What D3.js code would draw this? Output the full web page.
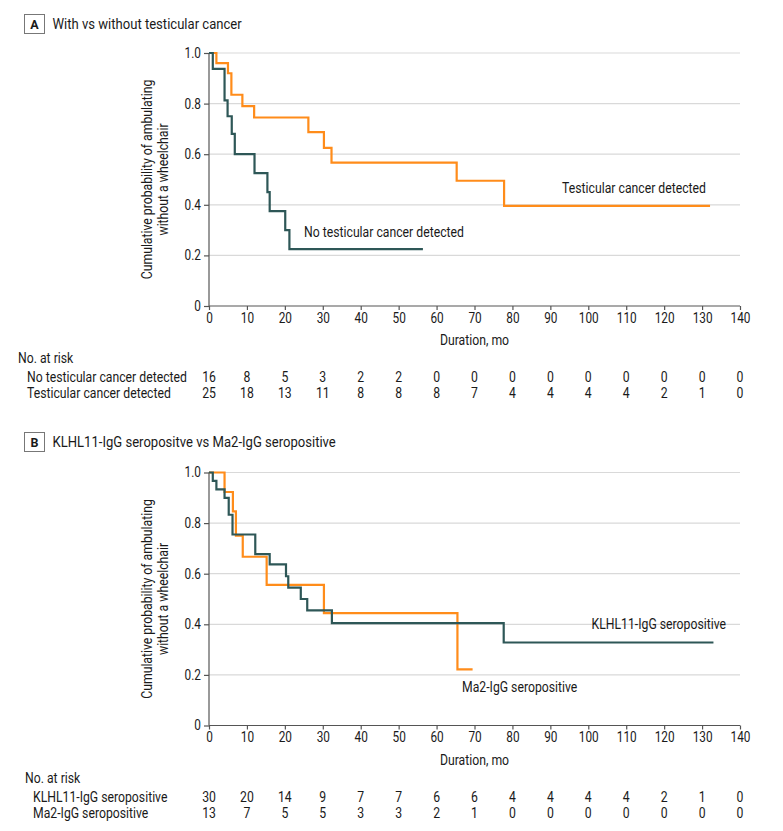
<!DOCTYPE html>
<html>
<head>
<meta charset="utf-8">
<script src="https://cdn.jsdelivr.net/npm/d3@7"></script>
<style>
html,body{margin:0;padding:0;background:#fff;}
svg{display:block;}
text{font-family:Roboto,"Liberation Sans",Arial,sans-serif;fill:#1a1a1a;}
</style>
</head>
<body>
<svg id="chart" width="783" height="831"></svg>
<script>
// ---------- DATA ----------
const xTicks = [0,10,20,30,40,50,60,70,80,90,100,110,120,130,140];
const yTicks = [0,0.2,0.4,0.6,0.8,1.0];

// Panel A
const titleA = "With vs without testicular cancer";
const namesA = ["No testicular cancer detected","Testicular cancer detected"];
const aNoTime = [0,1.0,4.1,4.9,6.0,6.8,12.0,15.4,16.0,20.1,21.2,56.4];
const aNoSurv = [1,0.9375,0.8125,0.75,0.68,0.60,0.525,0.45,0.375,0.30,0.225,0.225];
const aYesTime = [0,1.95,5.0,5.9,8.8,11.9,26.2,30.3,32.3,65.3,77.8,132.1];
const aYesSurv = [1,0.96,0.92,0.835,0.79,0.745,0.687,0.625,0.567,0.495,0.396,0.396];
const riskANo  = [16,8,5,3,2,2,0,0,0,0,0,0,0,0,0];
const riskAYes = [25,18,13,11,8,8,8,7,4,4,4,4,2,1,0];

// Panel B
const titleB = "KLHL11-IgG seropositve vs Ma2-IgG seropositive";
const namesB = ["KLHL11-IgG seropositive","Ma2-IgG seropositive"];
const bKlTime = [0,1.0,1.95,4.1,5.2,6.2,12.2,16.0,20.3,20.9,24.2,25.9,32.4,77.7,133.0];
const bKlSurv = [1,0.967,0.933,0.9,0.833,0.755,0.677,0.637,0.59,0.545,0.5,0.455,0.405,0.328,0.328];
const bMaTime = [0,4.1,6.3,7.1,8.9,15.2,30.3,65.5,69.5];
const bMaSurv = [1,0.923,0.846,0.75,0.667,0.556,0.444,0.222,0.222];
const riskBKl = [30,20,14,9,7,7,6,6,4,4,4,4,2,1,0];
const riskBMa = [13,7,5,5,3,3,2,1,0,0,0,0,0,0,0];

const yLabel = ["Cumulative probability of ambulating","without a wheelchair"];
const xLabel = "Duration, mo";

// ---------- STYLE ----------
const GREEN = "#2e5757";
const ORANGE = "#ff8c1a";
const FS = 14.5;

const svg = d3.select("#chart");

// measure condensing factor once (narrow typeface of the reference)
const probe = svg.append("text").attr("font-size",FS).text(namesA[0]);
const K = 160 / probe.node().getComputedTextLength();
probe.remove();

// add a text that is horizontally condensed by K, anchored at (x,y)
function ctext(parent, x, y, str, opts={}){
  const rot = opts.rotate ? ` rotate(${opts.rotate})` : "";
  return parent.append("text")
    .attr("transform",`translate(${x},${y})${rot} scale(${K},1)`)
    .attr("text-anchor",opts.anchor||"start")
    .attr("font-size",opts.size||FS)
    .text(str);
}

function panel(cfg){
  const g = svg.append("g");
  const x = d3.scaleLinear().domain([0,140]).range([209,740]);
  const y = d3.scaleLinear().domain([0,1]).range([cfg.yBottom,cfg.yTop]);

  // title box
  g.append("rect").attr("x",24.5).attr("y",cfg.titleY-9.5).attr("width",20).attr("height",19)
    .attr("fill","#fff").attr("stroke","#777").attr("stroke-width",1);
  g.append("text").attr("x",34.5).attr("y",cfg.titleY+4.5).attr("text-anchor","middle")
    .attr("font-weight","bold").attr("font-size",12.5).attr("font-family","Liberation Sans, Arial, sans-serif").text(cfg.letter);
  ctext(g, 52.5, cfg.titleY+5, cfg.title, {size:15.5});

  // gridlines
  g.append("g").selectAll("line").data(yTicks.filter(d=>d>0)).join("line")
    .attr("x1",x(0)).attr("x2",x(140)).attr("y1",d=>y(d)).attr("y2",d=>y(d))
    .attr("stroke","#d9d9d9").attr("stroke-width",1.2);

  // axes
  const xAxis = d3.axisBottom(x).tickValues(xTicks).tickSize(4).tickPadding(3).tickFormat(d3.format("d"));
  const gx = g.append("g").attr("transform",`translate(0,${cfg.yBottom})`).call(xAxis);
  const yAxis = d3.axisLeft(y).tickValues(yTicks).tickSize(5).tickPadding(3)
    .tickFormat(d=> d===0 ? "0" : d3.format(".1f")(d));
  const gy = g.append("g").attr("transform",`translate(${x(0)},0)`).call(yAxis);
  [gx,gy].forEach(a=>{
    a.select(".domain").attr("stroke","#555").attr("stroke-width",1.2);
    a.selectAll(".tick line").attr("stroke","#555").attr("stroke-width",1.2);
    a.selectAll(".tick text").attr("font-size",14).attr("fill","#1a1a1a")
      .attr("font-family","Roboto, sans-serif");
  });
  // condense tick labels around their anchors
  gx.selectAll(".tick text").attr("transform",`scale(${K},1)`);
  gy.selectAll(".tick text").each(function(){
    const t = d3.select(this);
    const xx = +t.attr("x");
    t.attr("x",0).attr("transform",`translate(${xx},0) scale(${K},1)`);
  });
  gx.select(".domain").attr("d",`M${x(0)},0H${x(140)}`);
  gy.select(".domain").attr("d",`M0,${cfg.yBottom}V${cfg.yTop}`);

  // y label
  const cy = (cfg.yTop+cfg.yBottom)/2;
  yLabel.forEach((t,i)=>{
    ctext(g, 152+i*16, cy, t, {rotate:-90, anchor:"middle"});
  });
  // x label
  ctext(g, (x(0)+x(140))/2, cfg.yBottom+39, xLabel, {anchor:"middle"});

  // curves
  const line = d3.line().x(d=>x(d[0])).y(d=>y(d[1])).curve(d3.curveStepAfter);
  cfg.series.forEach(s=>{
    g.append("path").datum(d3.zip(s.time,s.surv)).attr("d",line)
      .attr("fill","none").attr("stroke",s.color).attr("stroke-width",2.2)
      .attr("stroke-linejoin","miter").attr("stroke-linecap","butt");
  });
  cfg.labels.forEach(l=>{
    ctext(g, l.x, l.y, l.text, {anchor:l.anchor||"start"});
  });

  // risk table
  const rt = cfg.yBottom+57;
  ctext(g, cfg.riskX, rt, "No. at risk");
  cfg.risk.forEach((r,i)=>{
    const yy = rt + 19 + i*16;
    ctext(g, cfg.riskX+cfg.rowIndent, yy, r.name);
    const rg = g.append("g");
    r.vals.forEach((v,j)=>{
      ctext(rg, x(xTicks[j]), yy, v, {anchor:"middle"});
    });
  });
}

panel({
  letter:"A", title:titleA, titleY:24, yTop:53, yBottom:306,
  series:[
    {time:aYesTime,surv:aYesSurv,color:ORANGE},
    {time:aNoTime,surv:aNoSurv,color:GREEN}
  ],
  labels:[
    {text:namesA[1],x:706,y:193,anchor:"end"},
    {text:namesA[0],x:304,y:237}
  ],
  riskX:18, rowIndent:9,
  risk:[{name:namesA[0],vals:riskANo},{name:namesA[1],vals:riskAYes}]
});

panel({
  letter:"B", title:titleB, titleY:442, yTop:472.5, yBottom:725.5,
  series:[
    {time:bMaTime,surv:bMaSurv,color:ORANGE},
    {time:bKlTime,surv:bKlSurv,color:GREEN}
  ],
  labels:[
    {text:namesB[0],x:726,y:629,anchor:"end"},
    {text:namesB[1],x:462,y:692}
  ],
  riskX:25, rowIndent:8,
  risk:[{name:namesB[0],vals:riskBKl},{name:namesB[1],vals:riskBMa}]
});
</script>
</body>
</html>
